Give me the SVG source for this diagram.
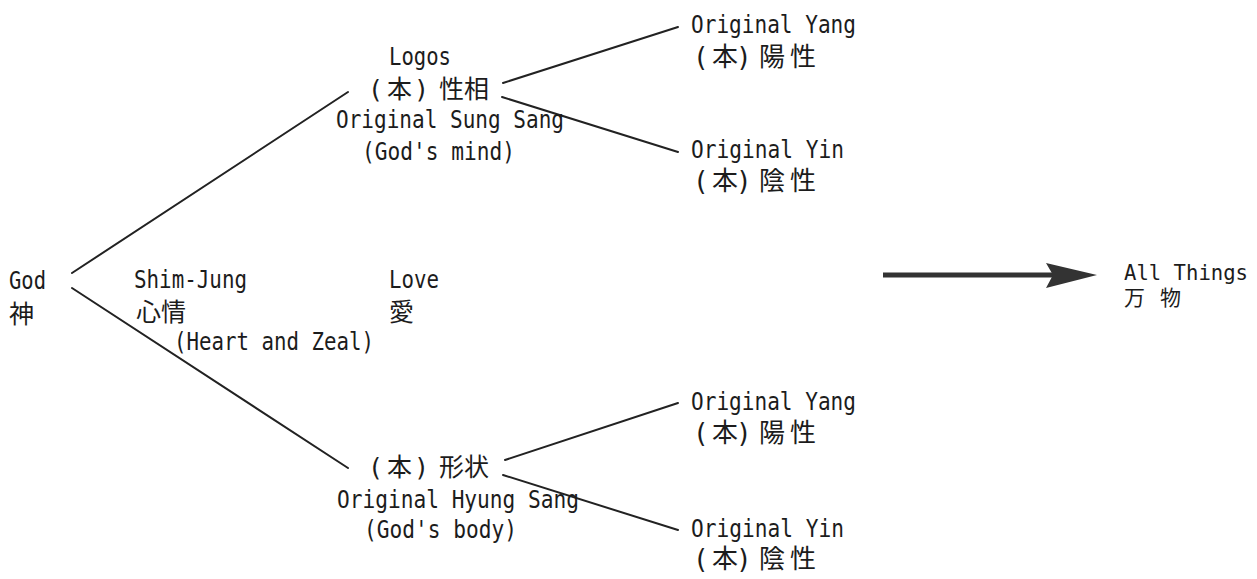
<svg xmlns="http://www.w3.org/2000/svg" width="1257" height="579" viewBox="0 0 1257 579">
<style>
.t{font-family:"DejaVu Sans Mono","Noto Sans CJK KR",monospace;font-size:25px;fill:#1c1c1c}
.c{font-family:"DejaVu Sans Mono","Noto Sans CJK JP",monospace;font-size:25px;fill:#1c1c1c}
.cw{font-family:"DejaVu Sans Mono","Noto Sans CJK JP",monospace;font-size:26px;fill:#1c1c1c}
.s{font-family:"DejaVu Sans Mono","Noto Sans CJK JP",monospace;font-size:21px;fill:#1c1c1c}
.ln{stroke:#222;stroke-width:2;fill:none;stroke-linecap:round}
.ar{stroke:#333;stroke-width:5;fill:none}
</style>
<rect width="1257" height="579" fill="#ffffff"/>
<g id="connectors">
<line class="ln" x1="72" y1="273" x2="348" y2="92"/>
<line class="ln" x1="72" y1="288" x2="348" y2="468"/>
<line class="ln" x1="503" y1="83" x2="678" y2="27"/>
<line class="ln" x1="502" y1="97" x2="678" y2="152"/>
<line class="ln" x1="505" y1="460" x2="678" y2="403"/>
<line class="ln" x1="503" y1="475" x2="678" y2="530"/>
<line class="ar" x1="883" y1="275" x2="1058" y2="275"/>
<polygon points="1097,275 1046,263 1053,275 1046,288" fill="#333"/>
</g>
<g id="god">
<text class="t" x="9" y="289" textLength="37" lengthAdjust="spacingAndGlyphs">God</text>
<text class="c" x="9" y="323">神</text>
</g>
<g id="shimjung">
<text class="t" x="134" y="288" textLength="113" lengthAdjust="spacingAndGlyphs">Shim-Jung</text>
<text class="c" x="136 161" y="321">心情</text>
<text class="t" x="174" y="350" textLength="200" lengthAdjust="spacingAndGlyphs">(Heart and Zeal)</text>
</g>
<g id="love">
<text class="t" x="389" y="288" textLength="50" lengthAdjust="spacingAndGlyphs">Love</text>
<text class="c" x="389" y="321">愛</text>
</g>
<g id="sungsang">
<text class="t" x="389" y="65" textLength="62" lengthAdjust="spacingAndGlyphs">Logos</text>
<text class="c" x="368 387 414 439 464" y="98">(本)性相</text>
<text class="t" x="336" y="128" textLength="228" lengthAdjust="spacingAndGlyphs">Original Sung Sang</text>
<text class="t" x="362" y="160" textLength="153" lengthAdjust="spacingAndGlyphs">(God's mind)</text>
</g>
<g id="yang-top">
<text class="t" x="691" y="33" textLength="165" lengthAdjust="spacingAndGlyphs">Original Yang</text>
<text class="cw" x="693 712 736 759 790" y="66">(本)陽性</text>
</g>
<g id="yin-top">
<text class="t" x="691" y="158" textLength="153" lengthAdjust="spacingAndGlyphs">Original Yin</text>
<text class="cw" x="693 712 736 759 790" y="190">(本)陰性</text>
</g>
<g id="hyungsang">
<text class="c" x="368 387 414 439 464" y="476">(本)形状</text>
<text class="t" x="337" y="508" textLength="242" lengthAdjust="spacingAndGlyphs">Original Hyung Sang</text>
<text class="t" x="364" y="538" textLength="153" lengthAdjust="spacingAndGlyphs">(God's body)</text>
</g>
<g id="yang-bottom">
<text class="t" x="691" y="410" textLength="165" lengthAdjust="spacingAndGlyphs">Original Yang</text>
<text class="cw" x="693 712 736 759 790" y="442">(本)陽性</text>
</g>
<g id="yin-bottom">
<text class="t" x="691" y="537" textLength="153" lengthAdjust="spacingAndGlyphs">Original Yin</text>
<text class="cw" x="693 712 736 759 790" y="568">(本)陰性</text>
</g>
<g id="allthings">
<text class="s" x="1124" y="280" textLength="124" lengthAdjust="spacingAndGlyphs">All Things</text>
<text class="s" x="1124 1146 1160" y="305">万 物</text>
</g>
</svg>
